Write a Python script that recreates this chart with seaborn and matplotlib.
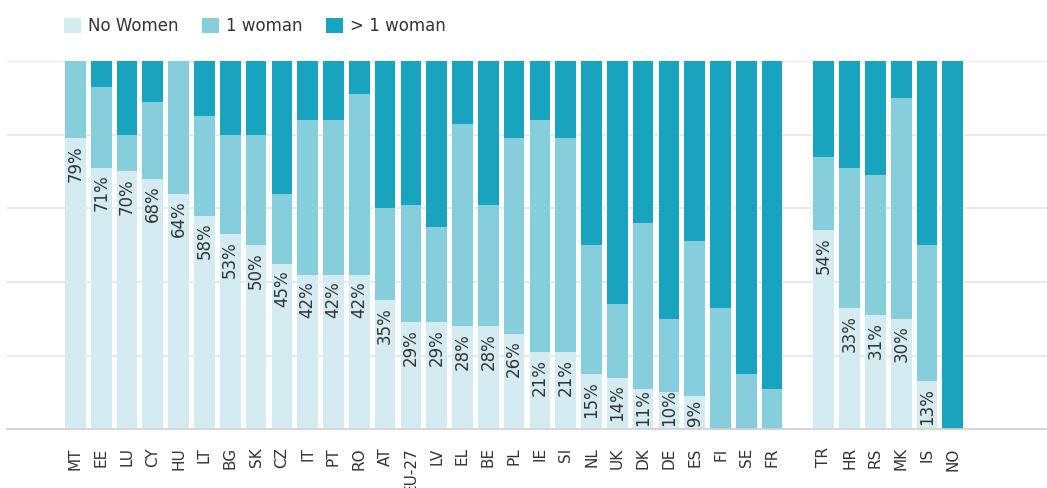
import pandas as pd
import matplotlib
matplotlib.use("Agg")
import matplotlib.pyplot as plt
import seaborn as sns
from matplotlib.patches import Patch

# =========================
# data (share of boards by number of women, %)
# =========================
countries = [
    "MT", "EE", "LU", "CY", "HU", "LT", "BG", "SK", "CZ", "IT", "PT", "RO",
    "AT", "EU-27", "LV", "EL", "BE", "PL", "IE", "SI", "NL", "UK", "DK", "DE",
    "ES", "FI", "SE", "FR",
    "TR", "HR", "RS", "MK", "IS", "NO",
]
no_women = [79, 71, 70, 68, 64, 58, 53, 50, 45, 42, 42, 42,
            35, 29, 29, 28, 28, 26, 21, 21, 15, 14, 11, 10,
            9, 0, 0, 0,
            54, 33, 31, 30, 13, 0]
one_woman = [21, 22, 10, 21, 36, 27, 27, 30, 19, 42, 42, 49,
             25, 32, 26, 55, 33, 53, 63, 58, 35, 20, 45, 20,
             42, 33, 15, 11,
             20, 38, 38, 60, 37, 0]
more_women = [0, 7, 20, 11, 0, 15, 20, 20, 36, 16, 16, 9,
              40, 39, 45, 17, 39, 21, 16, 21, 50, 66, 44, 70,
              49, 67, 85, 89,
              26, 29, 31, 10, 50, 100]
legend_labels = ["No Women", "1 woman", "> 1 woman"]

# empty slot between FR and the candidate / EFTA countries
GAP = " "
order = countries[:28] + [GAP] + countries[28:]

df = pd.DataFrame({
    "country": countries,
    "none": no_women,
    "one": one_woman,
    "more": more_women,
})
df["upto_one"] = df["none"] + df["one"]
df["total"] = df["upto_one"] + df["more"]

c_none, c_one, c_more = "#d3ebf1", "#87cedc", "#18a3bf"
text_col = "#333333"

sns.set_style("white")
plt.rcParams["font.family"] = ["DejaVu Sans"]

fig = plt.figure(figsize=(10.47, 4.88), dpi=100)
ax = fig.add_axes([0.0067, 0.1203, 0.9933, 0.7547])

# stacked bars: draw cumulative totals, biggest first
for col, c in [("total", c_more), ("upto_one", c_one), ("none", c_none)]:
    sns.barplot(data=df, x="country", y=col, order=order, color=c,
                saturation=1, width=0.8, errorbar=None, linewidth=0,
                edgecolor="none", ax=ax)

ax.set_ylim(0, 100)
ax.set_xlim(-2.65, 37.65)
ax.set_yticks([0, 20, 40, 60, 80, 100])
ax.yaxis.grid(True, color="#e6e6e6", lw=1.2)
ax.set_axisbelow(True)
ax.tick_params(axis="y", left=False, labelleft=False)
ax.tick_params(axis="x", length=0, pad=13, labelsize=11, labelcolor=text_col)
plt.setp(ax.get_xticklabels(), rotation=90)
ax.set_xlabel("")
ax.set_ylabel("")
for s in ["top", "right", "left"]:
    ax.spines[s].set_visible(False)
ax.spines["bottom"].set_color("#d0d0d0")
ax.spines["bottom"].set_linewidth(1.2)

# percentage labels for "No Women"
labels = []
for _, row in df.iterrows():
    if row["none"] > 0:
        pos = order.index(row["country"])
        t = ax.annotate(f"{row['none']}%", (pos, row["none"]), xytext=(0, -5),
                        textcoords="offset points", rotation=90,
                        ha="center", va="top", fontsize=12, color=text_col)
        labels.append(t)

# keep labels inside the bar when the segment is short
fig.canvas.draw()
renderer = fig.canvas.get_renderer()
base_px = ax.transData.transform((0, 0))[1]
for t in labels:
    bb = t.get_window_extent(renderer)
    if bb.y0 < base_px + 3:
        shift = (base_px + 3 - bb.y0) * 72 / fig.dpi
        t.xyann = (0, -5 + shift)

handles = [Patch(facecolor=c, edgecolor="none", label=l)
           for c, l in zip([c_none, c_one, c_more], legend_labels)]
leg = fig.legend(handles=handles, loc="upper left", bbox_to_anchor=(0.061, 0.965),
                 ncol=3, frameon=False, fontsize=12, handlelength=1.0,
                 handleheight=1.0, handletextpad=0.45, columnspacing=1.4,
                 borderpad=0, borderaxespad=0)
for txt in leg.get_texts():
    txt.set_color(text_col)

fig.savefig("out.png", dpi=100)
